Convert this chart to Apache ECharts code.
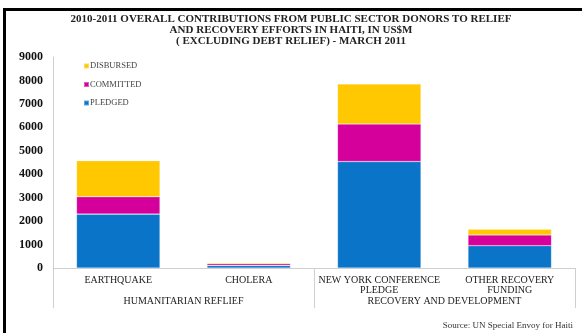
<!DOCTYPE html>
<html>
<head>
<meta charset="utf-8">
<style>
  html, body { margin: 0; padding: 0; background: #ffffff; }
  #chart { width: 582px; height: 333px; }
</style>
<script src="https://cdn.jsdelivr.net/npm/echarts@6/dist/echarts.min.js"></script>
</head>
<body>
<div id="chart"></div>
<script>
// Contributions in US$ millions, by funding line
const categories = ['EARTHQUAKE', 'CHOLERA', 'NEW YORK CONFERENCE\nPLEDGE', 'OTHER RECOVERY\nFUNDING'];
const groups = ['HUMANITARIAN REFLIEF', 'RECOVERY AND DEVELOPMENT'];
const pledged = [2300, 110, 4540, 950];
const committed = [740, 70, 1600, 460];
const disbursed = [1540, 50, 1710, 250];
const yTicks = { min: 0, max: 9000, interval: 1000 };

const serif = '"Liberation Serif", "DejaVu Serif", serif';
const colors = { pledged: '#0a74c9', committed: '#d5009b', disbursed: '#ffc800' };

function barSeries(name, data, color) {
  return {
    name: name,
    type: 'bar',
    stack: 'total',
    data: data,
    barWidth: '64%',
    itemStyle: { color: color, borderColor: 'rgba(255,255,255,0.35)', borderWidth: 0.6 },
    emphasis: { disabled: true }
  };
}

const chart = echarts.init(document.getElementById('chart'), null, { renderer: 'canvas' });
chart.setOption({
  animation: false,
  backgroundColor: '#ffffff',
  title: [
    {
      text: '2010-2011 OVERALL CONTRIBUTIONS FROM PUBLIC SECTOR DONORS TO RELIEF\nAND RECOVERY EFFORTS IN HAITI, IN US$M\n( EXCLUDING DEBT RELIEF) - MARCH 2011',
      left: 'center',
      top: 9,
      textStyle: { fontFamily: serif, fontSize: 11, fontWeight: 'bold', color: '#222', lineHeight: 11, align: 'center' }
    },
    {
      text: 'Source: UN Special Envoy for Haiti',
      right: 4,
      top: 316,
      textStyle: { fontFamily: serif, fontSize: 9, fontWeight: 'normal', color: '#333' }
    }
  ],
  legend: {
    orient: 'vertical',
    left: 78,
    top: 56,
    itemWidth: 5,
    itemHeight: 5,
    itemGap: 8.5,
    icon: 'rect',
    data: ['DISBURSED', 'COMMITTED', 'PLEDGED'],
    textStyle: { fontFamily: serif, fontSize: 8.5, color: '#444', lineHeight: 10, padding: [0, 0, 0, -4] }
  },
  grid: { left: 53, right: 7, top: 57, bottom: 65, containLabel: false },
  xAxis: [
    {
      type: 'category',
      data: categories,
      axisLine: { lineStyle: { color: '#cfcfcf', width: 1 } },
      axisTick: { show: false },
      axisLabel: { fontFamily: serif, fontSize: 10, color: '#222', margin: 7, lineHeight: 10, interval: 0 }
    },
    {
      type: 'category',
      data: groups,
      position: 'bottom',
      axisLine: { show: false },
      axisTick: { show: true, length: 40, lineStyle: { color: '#cfcfcf', width: 1 } },
      axisLabel: { fontFamily: serif, fontSize: 10, color: '#222', margin: 28, interval: 0 }
    }
  ],
  yAxis: {
    type: 'value',
    min: yTicks.min,
    max: yTicks.max,
    interval: yTicks.interval,
    axisLine: { show: true, lineStyle: { color: '#cfcfcf', width: 1 } },
    axisTick: { show: false },
    splitLine: { show: false },
    axisLabel: {
      fontFamily: serif, fontSize: 12, fontWeight: 'bold', color: '#111', margin: 10,
      formatter: function (v) { return String(v); }
    }
  },
  series: [
    barSeries('PLEDGED', pledged, colors.pledged),
    barSeries('COMMITTED', committed, colors.committed),
    barSeries('DISBURSED', disbursed, colors.disbursed)
  ],
  graphic: [
    { type: 'rect', shape: { x: 3, y: 8, width: 579, height: 3 }, style: { fill: '#000' }, silent: true },
    { type: 'rect', shape: { x: 3, y: 8, width: 3, height: 325 }, style: { fill: '#000' }, silent: true }
  ]
});
</script>
</body>
</html>
